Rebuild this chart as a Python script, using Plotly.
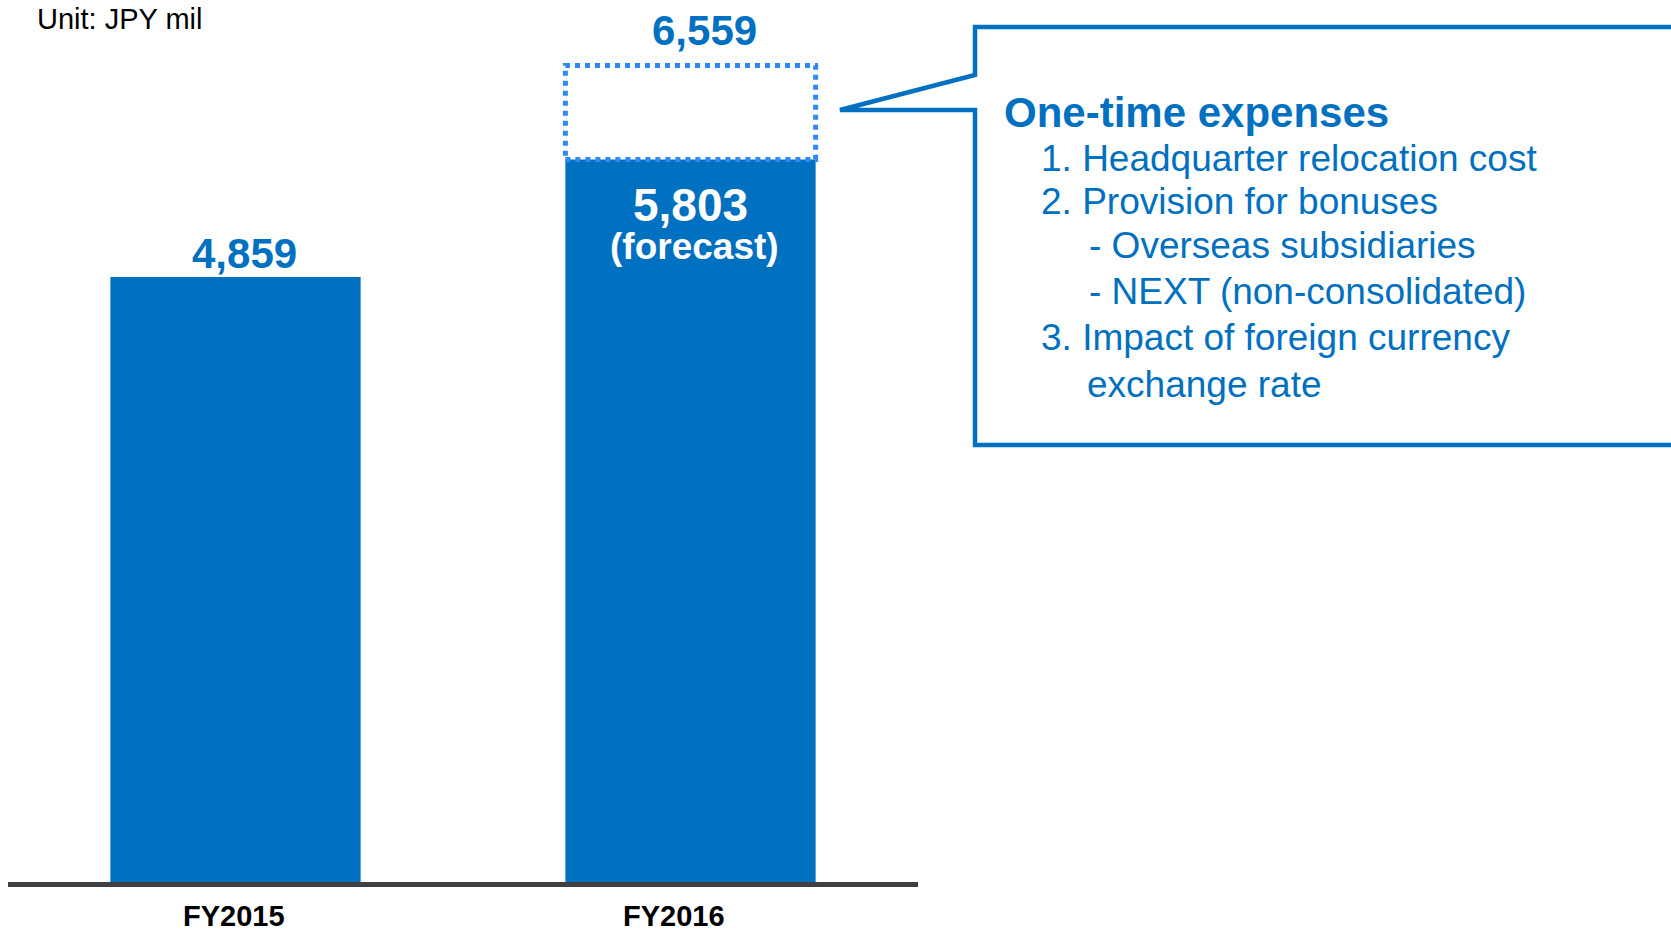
import plotly.graph_objects as go

# ---- data ----
categories = ["FY2015", "FY2016"]
values = [4859, 5803]
one_time_total = [None, 6559]
forecast_note = ["", "(forecast)"]
unit_label = "Unit: JPY mil"
callout_title = "One-time expenses"
callout_lines = [
    "1. Headquarter relocation cost",
    "2. Provision for bonuses",
    "- Overseas subsidiaries",
    "- NEXT (non-consolidated)",
    "3. Impact of foreign currency",
    "exchange rate",
]

# ---- styles / layout constants ----
W, H = 1671, 932
ML, MR, MT, MB = 8, 0, 0, 50
BLUE = "#0070C0"
DOT_BLUE = "#2F89F5"
FONT = "Liberation Sans, Arial, sans-serif"
BAR_W = 0.55
PX_PER_UNIT = 0.1245
PLOT_H = H - MT - MB
PLOT_W = 910

def px_x(p):
    return (p - ML) / (W - ML - MR)

def px_y(p):
    return (H - MB - p) / PLOT_H

fig = go.Figure()
fig.add_trace(go.Bar(
    x=categories, y=values, width=BAR_W,
    marker=dict(color=BLUE, line=dict(width=0)),
    hoverinfo="skip",
))

annotations = []
shapes = []

# value labels
for i, (c, v, tot) in enumerate(zip(categories, values, one_time_total)):
    if tot is None:
        annotations.append(dict(x=c, y=v, xref="x", yref="y", text=f"<b>{v:,}</b>",
                                showarrow=False, yanchor="bottom", xshift=9, yshift=-2,
                                font=dict(family=FONT, size=42, color=BLUE)))
    else:
        idx = categories.index(c)
        shapes.append(dict(type="rect", xref="x", yref="y",
                           x0=idx - BAR_W / 2, x1=idx + BAR_W / 2, y0=v, y1=tot,
                           line=dict(color=DOT_BLUE, width=5, dash="dot"),
                           fillcolor="rgba(0,0,0,0)", layer="above"))
        annotations.append(dict(x=c, y=tot, xref="x", yref="y", text=f"<b>{tot:,}</b>",
                                showarrow=False, yanchor="bottom", xshift=14, yshift=9,
                                font=dict(family=FONT, size=42, color=BLUE)))
        annotations.append(dict(x=c, y=v, xref="x", yref="y", text=f"<b>{v:,}</b>",
                                showarrow=False, yanchor="middle", xshift=0, yshift=-45,
                                font=dict(family=FONT, size=46, color="white")))
        annotations.append(dict(x=c, y=v, xref="x", yref="y", text=f"<b>{forecast_note[i]}</b>",
                                showarrow=False, yanchor="middle", xshift=4, yshift=-87,
                                font=dict(family=FONT, size=37, color="white")))

# category labels
label_xshift = [-2, -17]
for c, xs in zip(categories, label_xshift):
    annotations.append(dict(x=c, y=0, xref="x", yref="y", text=f"<b>{c}</b>",
                            showarrow=False, yanchor="middle", xshift=xs, yshift=-34,
                            font=dict(family=FONT, size=29, color="black")))

# unit label
annotations.append(dict(x=px_x(35), y=px_y(19), xref="paper", yref="paper", text=unit_label,
                        showarrow=False, xanchor="left", yanchor="middle",
                        font=dict(family=FONT, size=29, color="black")))

# callout box with pointer
pts = [(975, 75), (975, 27), (1700, 27), (1700, 445), (975, 445), (975, 110), (840, 110)]
path = "M " + " L ".join(f"{px_x(a):.5f},{px_y(b):.5f}" for a, b in pts) + " Z"
shapes.append(dict(type="path", xref="paper", yref="paper", path=path,
                   line=dict(color=BLUE, width=4.5), fillcolor="white", layer="above"))

annotations.append(dict(x=px_x(1002), y=px_y(112), xref="paper", yref="paper",
                        text=f"<b>{callout_title}</b>", showarrow=False,
                        xanchor="left", yanchor="middle",
                        font=dict(family=FONT, size=42, color=BLUE)))
line_x = [1039, 1039, 1087, 1087, 1039, 1085]
line_y = [158, 201, 246, 291, 337, 384]
for t, lx, ly in zip(callout_lines, line_x, line_y):
    annotations.append(dict(x=px_x(lx), y=px_y(ly), xref="paper", yref="paper",
                            text=t, showarrow=False, xanchor="left", yanchor="middle",
                            font=dict(family=FONT, size=37, color=BLUE)))

fig.update_layout(
    width=W, height=H,
    margin=dict(l=ML, r=MR, t=MT, b=MB),
    paper_bgcolor="white", plot_bgcolor="white",
    showlegend=False,
    xaxis=dict(domain=[0, PLOT_W / (W - ML - MR)], range=[-0.5, 1.5],
               showticklabels=False, ticks="", showgrid=False, zeroline=False,
               showline=True, linecolor="#404040", linewidth=5, fixedrange=True),
    yaxis=dict(range=[0, PLOT_H / PX_PER_UNIT], visible=False, fixedrange=True),
    shapes=shapes, annotations=annotations,
)

fig.write_html("out.html")
